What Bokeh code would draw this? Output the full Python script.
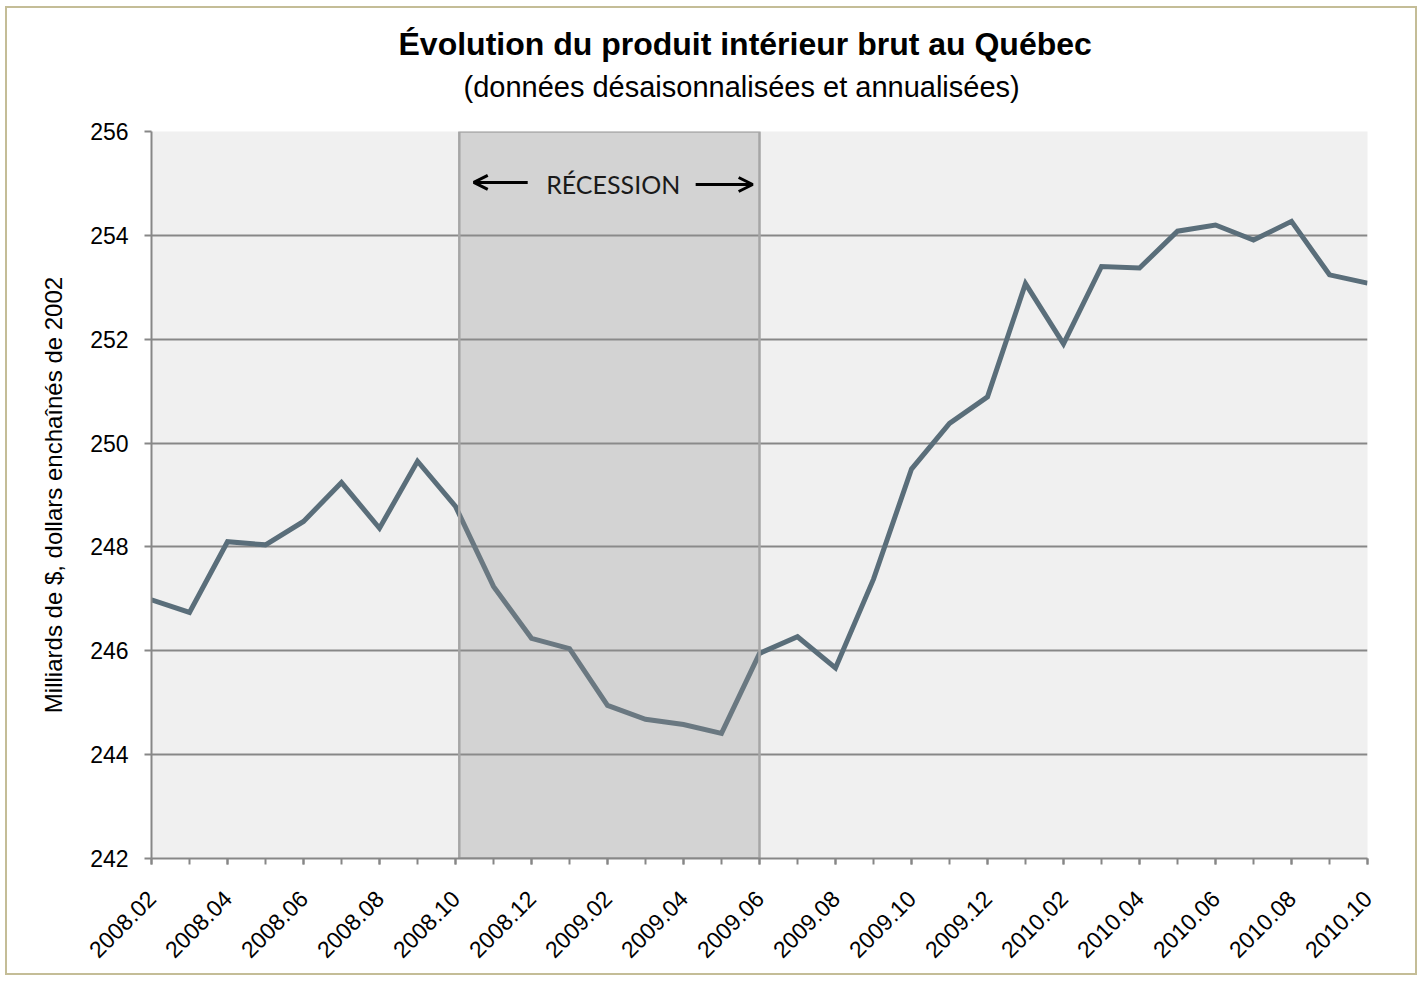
import math
from bokeh.plotting import figure
from bokeh.models import (Range1d, FixedTicker, Title, Label, Arrow, OpenHead,
                          ColumnDataSource)
from bokeh.embed import file_html
from bokeh.resources import INLINE

# ---------------- data ----------------
months = ["2008.02", "2008.03", "2008.04", "2008.05", "2008.06", "2008.07",
          "2008.08", "2008.09", "2008.10", "2008.11", "2008.12", "2009.01",
          "2009.02", "2009.03", "2009.04", "2009.05", "2009.06", "2009.07",
          "2009.08", "2009.09", "2009.10", "2009.11", "2009.12", "2010.01",
          "2010.02", "2010.03", "2010.04", "2010.05", "2010.06", "2010.07",
          "2010.08", "2010.09", "2010.10"]
gdp = [246.98, 246.74, 248.10, 248.04, 248.49, 249.24, 248.36, 249.65,
       248.78, 247.24, 246.24, 246.04, 244.95, 244.68, 244.58, 244.41,
       245.95, 246.27, 245.67, 247.38, 249.50, 250.38, 250.89, 253.07,
       251.91, 253.40, 253.37, 254.08, 254.20, 253.91, 254.27, 253.24,
       253.08]
y_ticks = [242, 244, 246, 248, 250, 252, 254, 256]
recession_start = 8.1      # just after 2008.10
recession_end = 16.0       # 2009.06
recession_label = "RÉCESSION"
title_text = "Évolution du produit intérieur brut au Québec"
subtitle_text = "(données désaisonnalisées et annualisées)"
ylabel_text = "Milliards de $, dollars enchaînés de 2002"

idx = list(range(len(months)))
label_idx = idx[::2]

FONT = "Liberation Sans"
GRID = "#878787"

p = figure(width=1412, height=969, output_backend="svg", toolbar_location=None,
           x_range=Range1d(0, len(months) - 1), y_range=Range1d(y_ticks[0], y_ticks[-1]),
           min_border_left=144, min_border_right=52, min_border_top=123,
           min_border_bottom=119, background_fill_color="#f0f0f0",
           border_fill_color="white", outline_line_color=None)
p.styles = {"border": "2px solid #c4bd97", "margin-left": "5px", "margin-top": "6px"}

# titles (first added sits closest to the plot)
p.add_layout(Title(text=subtitle_text, align="left", text_font=FONT,
                   text_font_size="29px", text_font_style="normal",
                   text_color="black", offset=312, standoff=58), "above")
p.add_layout(Title(text=title_text, align="left", text_font=FONT,
                   text_font_size="32px", text_font_style="bold",
                   text_color="black", offset=247, standoff=-45), "above")

# axes
p.xaxis.ticker = FixedTicker(ticks=label_idx, minor_ticks=idx)
p.xaxis.major_label_overrides = {i: months[i] for i in label_idx}
p.xaxis.major_label_orientation = math.pi / 4
p.xaxis.major_label_text_font = FONT
p.xaxis.major_label_text_font_size = "23px"
p.xaxis.major_label_text_color = "black"
p.xaxis.major_tick_out = 6
p.xaxis.major_tick_in = 0
p.xaxis.minor_tick_out = 6
p.xaxis.minor_tick_in = 0
p.xaxis.axis_line_color = GRID
p.xaxis.axis_line_width = 2
p.xaxis.major_tick_line_color = GRID
p.xaxis.minor_tick_line_color = GRID
p.xaxis.major_tick_line_width = 2
p.xaxis.minor_tick_line_width = 2
p.xaxis.major_label_standoff = 30

p.yaxis.ticker = FixedTicker(ticks=y_ticks)
p.yaxis.major_label_text_font = FONT
p.yaxis.major_label_text_font_size = "23px"
p.yaxis.major_label_text_color = "black"
p.yaxis.major_tick_out = 7
p.yaxis.major_tick_in = 0
p.yaxis.minor_tick_line_color = None
p.yaxis.axis_line_color = GRID
p.yaxis.axis_line_width = 2
p.yaxis.major_tick_line_color = GRID
p.yaxis.major_tick_line_width = 2
p.yaxis.major_label_standoff = 16
p.yaxis.axis_label = ylabel_text
p.yaxis.axis_label_text_font = FONT
p.yaxis.axis_label_text_font_size = "24px"
p.yaxis.axis_label_text_font_style = "normal"
p.yaxis.axis_label_text_color = "black"
p.yaxis.axis_label_standoff = 20

p.xgrid.grid_line_color = None
p.ygrid.ticker = FixedTicker(ticks=y_ticks)
p.ygrid.grid_line_color = GRID
p.ygrid.grid_line_width = 2

# line
src = ColumnDataSource(dict(x=idx, y=gdp))
p.line("x", "y", source=src, line_color="#5a6e7a", line_width=5,
       line_join="miter")

# recession box (overlay, semi-transparent)
p.quad(left=[recession_start], right=[recession_end], bottom=[y_ticks[0]],
       top=[y_ticks[-1]], fill_color="#939393", fill_alpha=0.3,
       line_color="#a6a6a6", line_width=2.5)

mid = (recession_start + recession_end) / 2
lab_y = y_ticks[-1] - 1.02
p.add_layout(Label(x=mid + 0.1, y=lab_y, text=recession_label, text_align="center",
                   text_baseline="middle", text_font="Lato",
                   text_font_size="25px", text_color="#1a1a1a"))
p.add_layout(Arrow(end=OpenHead(size=14, line_width=3, line_color="black"),
                   x_start=recession_start + 1.8, y_start=lab_y + 0.04,
                   x_end=recession_start + 0.38, y_end=lab_y + 0.04,
                   line_width=3, line_color="black"))
p.add_layout(Arrow(end=OpenHead(size=14, line_width=3, line_color="black"),
                   x_start=recession_end - 1.68, y_start=lab_y,
                   x_end=recession_end - 0.18, y_end=lab_y,
                   line_width=3, line_color="black"))

open("out.html", "w").write(file_html(p, INLINE))
